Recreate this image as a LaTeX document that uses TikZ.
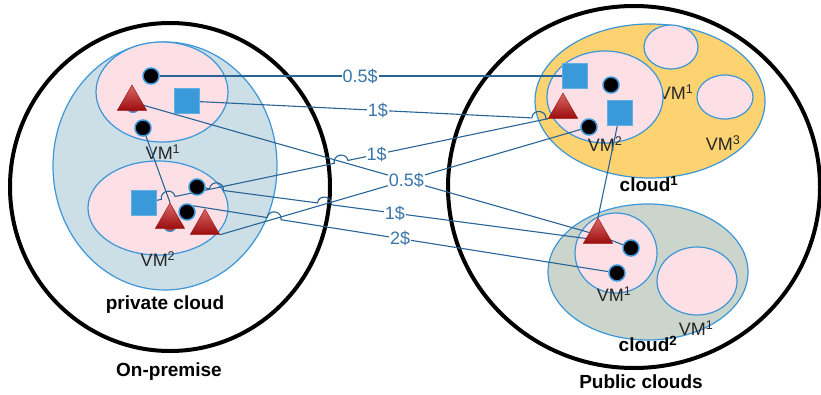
\documentclass[tikz,border=0pt]{standalone}
\usepackage{fontspec}
\setmainfont{Liberation Sans}
\usetikzlibrary{shapes.geometric,calc,backgrounds}
\definecolor{edgeblue}{RGB}{59,151,216}
\definecolor{wireblue}{RGB}{40,100,150}
\definecolor{costblue}{RGB}{58,118,170}
\definecolor{privfill}{RGB}{204,222,230}
\definecolor{vmfill}{RGB}{253,224,230}
\definecolor{pubfill}{RGB}{252,211,112}
\definecolor{pubfilltwo}{RGB}{203,213,204}
\definecolor{sqfill}{RGB}{58,154,217}
\definecolor{trilight}{RGB}{216,104,104}
\definecolor{tridark}{RGB}{156,12,12}
\newcommand{\hopto}[3]{-- ($(#1)!#3!(#2)!-7pt!(#2)$)
  .. controls ($(#1)!#3!(#2)!-7pt!(#2)!9pt!90:(#2)$) and ($(#1)!#3!(#2)!7pt!(#2)!9pt!-90:(#1)$)
  .. ($(#1)!#3!(#2)!7pt!(#2)$)}
\newcommand{\vm}[1]{VM\textsuperscript{#1}}

\begin{document}
\begin{tikzpicture}[x=1pt,y=-1pt,
  dot/.style={circle,fill=black,draw=edgeblue,line width=1.5pt,minimum size=16pt,inner sep=0pt},
  box/.style={rectangle,fill=sqfill,draw=sqfill!80!white,minimum size=25pt,inner sep=0pt},
  tri/.style={regular polygon,regular polygon sides=3,minimum size=34pt,inner sep=0pt,draw=tridark,top color=trilight,bottom color=tridark},
  under/.style={circle,draw=edgeblue,fill=tridark!80,line width=1pt,minimum size=13pt,inner sep=0pt},
  wire/.style={draw=wireblue,line width=1.1pt},
  cost/.style={fill=white,text=costblue,inner sep=1pt,font=\fontsize{18}{20}\selectfont},
  vmtext/.style={text=black!85,font=\fontsize{18}{20}\selectfont},
  title/.style={font=\bfseries\fontsize{19}{21}\selectfont},
  host/.style={line width=4pt},
  zone/.style={draw=edgeblue,line width=1.2pt}]
\useasboundingbox (0,0) rectangle (821,394);
\node[under] (u1) at (133,106) {};
\node[under] (u2) at (170,225) {};
\foreach \n/\x/\y in {c1/151/76,c2/143/128,c3/197/187,c4/187/212,c5/611/85,c6/589/127,c7/631/248,c8/617/273}
  \node[dot] (\n) at (\x,\y) {};
\foreach \n/\x/\y in {s1/187/101,s2/144/203,s3/575/76,s4/620/113}
  \node[box] (\n) at (\x,\y) {};
\foreach \n/\x/\y in {t1/132/102,t2/170/220,t3/205/226,t4/563/110,t5/598/235}
  \node[tri] (\n) at (\x,\y) {};
\begin{scope}[on background layer]
\draw[host] (170,187) ellipse[x radius=160pt,y radius=164pt];
\draw[host] (634,187) ellipse[x radius=186pt,y radius=181pt];
\filldraw[zone,fill=privfill] (165,166) ellipse[x radius=112pt,y radius=124pt];
\filldraw[zone,fill=vmfill] (162,92) ellipse[x radius=66pt,y radius=50pt];
\filldraw[zone,fill=vmfill] (158,208) ellipse[x radius=70pt,y radius=47pt];
\filldraw[zone,fill=pubfill] (650,101) ellipse[x radius=115pt,y radius=77pt];
\filldraw[zone,fill=vmfill] (671,47) ellipse[x radius=27pt,y radius=22pt];
\filldraw[zone,fill=vmfill] (725,97) ellipse[x radius=28pt,y radius=22pt];
\node[vmtext] (vmc) at (676,92) {\vm{1}};
\filldraw[zone,fill=vmfill] (605,97) ellipse[x radius=58pt,y radius=46pt];
\filldraw[zone,fill=pubfilltwo] (648,272) ellipse[x radius=100pt,y radius=68pt];
\filldraw[zone,fill=vmfill] (616,253) ellipse[x radius=41pt,y radius=40pt];
\filldraw[zone,fill=vmfill] (697,281) ellipse[x radius=40pt,y radius=34pt];
\node[vmtext] (vma) at (163,152) {\vm{1}};
\node[vmtext] (vmb) at (158,259) {\vm{2}};
\node[title] (priv) at (165,305) {private cloud};
\node[title] (onprem) at (169,372) {On-premise};
\node[vmtext] (vmd) at (605,144) {\vm{2}};
\node[vmtext] (vme) at (723,143) {\vm{3}};
\node[title] (cla) at (649,184) {cloud\textsuperscript{1}};
\node[vmtext] (vmf) at (614,294) {\vm{1}};
\node[vmtext] (vmg) at (696,328) {\vm{1}};
\node[title] (clb) at (648,344) {cloud\textsuperscript{2}};
\node[title] (pub) at (641,382) {Public clouds};
\coordinate (t4in) at (t4.corner 2);
\coordinate (t5low) at ($(t5.corner 2)!0.2!(t5.corner 1)$);
\coordinate (c4top) at (c4.north east);
\draw[wire] (c1) -- (s3);
\draw[wire] (s1) \hopto{s1}{t4in}{0.975} -- (t4in);
\draw[wire] (s2) \hopto{s2}{t4in}{0.060} \hopto{s2}{t4in}{0.488} -- (t4in);
\draw[wire] (t1) -- (t5);
\draw[wire] (c2) -- (t2.corner 1);
\draw[wire] (c3) \hopto{c3}{t5low}{0.05} \hopto{c3}{t5low}{0.3275} -- (t5low);
\draw[wire] (t3.corner 3) -- (c6);
\draw[wire] (c4top) \hopto{c4top}{c8}{0.191} -- (c8);
\draw[wire] (t5) -- (c7);
\draw[wire] (s4) -- (t5.corner 1);
\node[cost] (k1) at ($(c1)!0.493!(s3)$) {0.5\$};
\node[cost] (k2) at ($(s1)!0.529!(t4in)$) {1\$};
\node[cost] (k3) at ($(s2)!0.576!(t4in)$) {1\$};
\node[cost] (k4) at ($(t3.corner 3)!0.505!(c6)$) {0.5\$};
\node[cost] (k5) at ($(c3)!0.509!(t5low)$) {1\$};
\node[cost] (k6) at ($(c4top)!0.488!(c8)$) {2\$};
\end{scope}
\end{tikzpicture}
\end{document}
